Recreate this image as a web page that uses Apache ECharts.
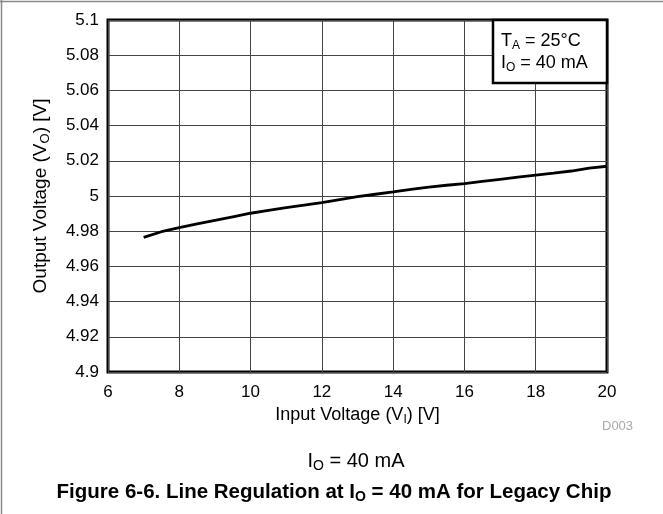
<!DOCTYPE html>
<html>
<head>
<meta charset="utf-8">
<script src="https://cdn.jsdelivr.net/npm/echarts@6/dist/echarts.min.js"></script>
<style>
  html, body { margin: 0; padding: 0; background: #fff; }
  #main { width: 663px; height: 514px; }
</style>
</head>
<body>
<div id="main"></div>
<script>
// input voltage (V) and output voltage (V)
var vin = [7, 7.5, 8, 8.5, 9, 9.5, 10, 10.5, 11, 11.5, 12, 12.5, 13, 13.5,
           14, 14.5, 15, 15.5, 16, 16.5, 17, 17.5, 18, 18.5, 19, 19.5, 20];
var vout = [4.9765, 4.9797, 4.9820, 4.9842, 4.9862, 4.9882, 4.9902, 4.9918,
            4.9934, 4.9948, 4.9962, 4.9979, 4.9996, 5.0010, 5.0023, 5.0038,
            5.0051, 5.0061, 5.0070, 5.0083, 5.0095, 5.0107, 5.0119, 5.0130,
            5.0142, 5.0158, 5.0169];
var legendLines = ['T{s|A} = 25°C', 'I{s|O} = 40 mA'];

var font = 'Liberation Sans, Arial, sans-serif';
var pts = vin.map(function (x, i) { return [x, vout[i]]; });

var myChart = echarts.init(document.getElementById('main'));
myChart.setOption({
    animation: false,
    backgroundColor: '#fff',
    grid: {
        left: 108, right: 56, top: 20, bottom: 142,
        show: true, borderColor: '#000', borderWidth: 3, backgroundColor: 'transparent'
    },
    xAxis: {
        type: 'value', min: 6, max: 20, interval: 2,
        name: 'Input Voltage (V{s|I}) [V]',
        nameLocation: 'middle', nameGap: 32,
        nameTextStyle: {
            color: '#000', fontFamily: font, fontSize: 18,
            rich: { s: { fontSize: 12, fontFamily: font, padding: [9, 0, 0, 0] } }
        },
        axisLine: { show: false },
        axisTick: { show: false },
        axisLabel: { color: '#000', fontFamily: font, fontSize: 17, margin: 12 },
        splitLine: { lineStyle: { color: '#444', width: 1 } }
    },
    yAxis: {
        type: 'value', min: 4.9, max: 5.1, interval: 0.02,
        name: 'Output Voltage (V{s|O}) [V]',
        nameLocation: 'middle', nameGap: 56,
        nameTextStyle: {
            color: '#000', fontFamily: font, fontSize: 19,
            rich: { s: { fontSize: 13, fontFamily: font, padding: [9, 0, 0, 0] } }
        },
        axisLine: { show: false },
        axisTick: { show: false },
        axisLabel: {
            color: '#000', fontFamily: font, fontSize: 17, margin: 9,
            formatter: function (v) { return String(Math.round(v * 100) / 100); }
        },
        splitLine: { lineStyle: { color: '#444', width: 1 } }
    },
    series: [{
        type: 'line',
        data: pts,
        showSymbol: false,
        lineStyle: { color: '#000', width: 2.8 },
        z: 5
    }],
    graphic: [
        // figure frame (top and left)
        { type: 'line', shape: { x1: 0, y1: 1.5, x2: 663, y2: 1.5 }, style: { stroke: '#888', lineWidth: 1.5 } },
        { type: 'line', shape: { x1: 1.5, y1: 0, x2: 1.5, y2: 514 }, style: { stroke: '#888', lineWidth: 1.5 } },
        // conditions box
        {
            type: 'rect', shape: { x: 493, y: 20, width: 114, height: 63 },
            style: { fill: '#fff', stroke: '#000', lineWidth: 2.5 }, z: 10
        },
        {
            type: 'text', left: 501, top: 30, z: 11,
            style: {
                text: legendLines.join('\n'),
                fontFamily: font, fontSize: 18, fill: '#000', lineHeight: 22,
                rich: { s: { fontSize: 12, fontFamily: font, padding: [9, 0, 0, 0] } }
            }
        },
        {
            type: 'text', left: 602, top: 420,
            style: { text: 'D003', fontFamily: font, fontSize: 13, fill: '#aaa' }
        },
        {
            type: 'text', x: 356, y: 461,
            style: {
                text: 'I{s|O} = 40 mA', align: 'center', verticalAlign: 'middle',
                fontFamily: font, fontSize: 20, fill: '#000',
                rich: { s: { fontSize: 14, fontFamily: font, padding: [10, 0, 0, 0] } }
            }
        },
        {
            type: 'text', x: 334, y: 492,
            style: {
                text: 'Figure 6-6. Line Regulation at I{s|O} = 40 mA for Legacy Chip',
                align: 'center', verticalAlign: 'middle',
                fontFamily: font, fontSize: 20.5, fontWeight: 'bold', fill: '#000',
                rich: { s: { fontSize: 14, fontWeight: 'bold', fontFamily: font, padding: [10, 0, 0, 0] } }
            }
        }
    ]
});
</script>
</body>
</html>
